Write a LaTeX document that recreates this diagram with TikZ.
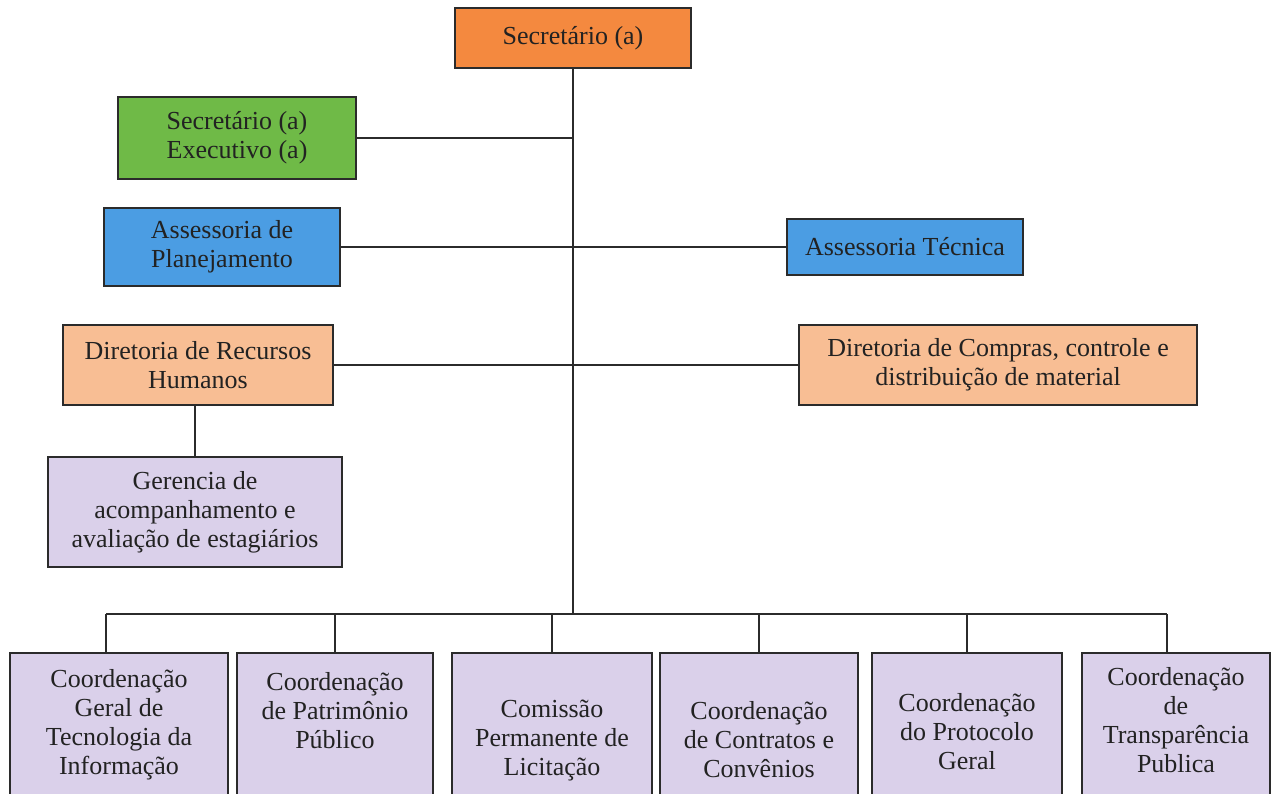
\documentclass[tikz,border=0pt]{standalone}
\usepackage{fontspec}
\setmainfont{Liberation Serif}
\definecolor{boxline}{HTML}{2B2B2B}
\definecolor{inktext}{HTML}{222222}
\definecolor{headorange}{HTML}{F4893F}
\definecolor{execgreen}{HTML}{6FBA47}
\definecolor{advblue}{HTML}{4B9DE3}
\definecolor{dirorange}{HTML}{F8BE94}
\definecolor{unitlilac}{HTML}{DAD0EA}
\begin{document}
\begin{tikzpicture}[x=1pt,y=-1pt,
  box/.style={draw=boxline, line width=2pt, inner sep=0pt, align=center,
    text=inktext, font=\fontsize{26}{29}\selectfont},
  unitbox/.style={box, fill=unitlilac, minimum height=148},
  unittext/.style={align=center, inner sep=0pt, text=inktext,
    font=\fontsize{26}{29}\selectfont},
  wire/.style={draw=boxline, line width=2pt}]
\path[use as bounding box, clip] (0,0) rectangle (1271,793);
\fill[white] (0,0) rectangle (1271,793);

% top of the hierarchy
\node[box, fill=headorange, minimum width=236, minimum height=60] (sec) at (573,38) {Secretário (a)};
\node[box, fill=execgreen, minimum width=238, minimum height=82] (exec) at (237,138) {Secretário (a)\\Executivo (a)};

% advisory units
\node[box, fill=advblue, minimum width=236, minimum height=78] (plan) at (222,247) {Assessoria de\\Planejamento};
\node[box, fill=advblue, minimum width=236, minimum height=56] (tec) at (905,247) {Assessoria Técnica};

% directorates
\node[box, fill=dirorange, minimum width=270, minimum height=80] (drh) at (198,365) {Diretoria de Recursos\\Humanos};
\node[box, fill=dirorange, minimum width=398, minimum height=80] (comp) at (998,365) {Diretoria de Compras, controle e\\distribuição de material};
\node[box, fill=unitlilac, minimum width=294, minimum height=110] (ger) at (195,512) {Gerencia de\\acompanhamento e\\avaliação de estagiários};

% coordinations along the bottom
\node[unitbox, minimum width=218] (b1) at (119,727) {};
\node[unitbox, minimum width=196] (b2) at (335,727) {};
\node[unitbox, minimum width=200] (b3) at (552,727) {};
\node[unitbox, minimum width=198] (b4) at (759,727) {};
\node[unitbox, minimum width=190] (b5) at (967,727) {};
\node[unitbox, minimum width=188] (b6) at (1176,727) {};

\node[unittext] (t1) at (119,725) {Coordenação\\Geral de\\Tecnologia da\\Informação};
\node[unittext] (t2) at (335,711) {Coordenação\\de Patrimônio\\Público};
\node[unittext] (t3) at (552,740) {Comissão\\Permanente de\\Licitação};
\node[unittext] (t4) at (759,740) {Coordenação\\de Contratos e\\Convênios};
\node[unittext] (t5) at (967,732) {Coordenação\\do Protocolo\\Geral};
\node[unittext] (t6) at (1176,720) {Coordenação\\de\\Transparência\\Publica};

% bus line ends
\coordinate (busL) at (106,614);
\coordinate (busR) at (1167,614);

% connectors
\draw[wire] (sec.south) -- (sec.south |- busL);
\draw[wire] (exec.east) -- (exec.east -| sec.south);
\draw[wire] (plan.east) -- (tec.west);
\draw[wire] (drh.east) -- (comp.west);
\draw[wire] (ger.north) -- (ger.north |- drh.south);
\draw[wire] (busL) -- (busR);
\draw[wire] (busL) -- (busL |- b1.north);
\draw[wire] (b2.north) -- (b2.north |- busL);
\draw[wire] (b3.north) -- (b3.north |- busL);
\draw[wire] (b4.north) -- (b4.north |- busL);
\draw[wire] (b5.north) -- (b5.north |- busL);
\draw[wire] (busR) -- (busR |- b6.north);
\end{tikzpicture}
\end{document}
